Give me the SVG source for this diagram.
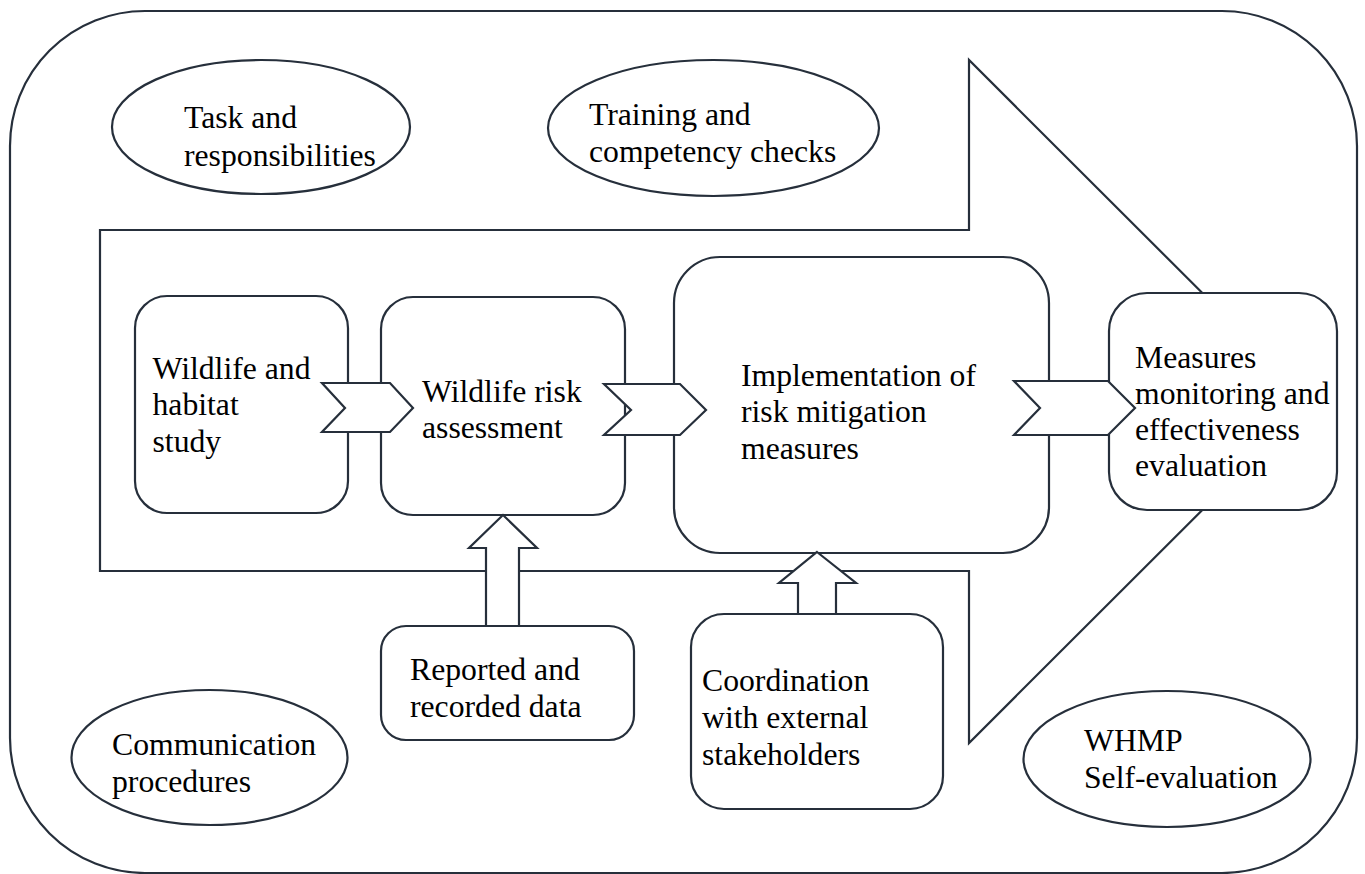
<svg xmlns="http://www.w3.org/2000/svg" width="1365" height="874" viewBox="0 0 1365 874">
<style>
.s{fill:#fff;stroke:#262f3b;stroke-width:2.2;stroke-linejoin:miter}
.t{font-family:"Liberation Serif","Times New Roman",serif;font-size:31.7px;fill:#000}
</style>
<rect width="1365" height="874" fill="#fff"/>
<g id="frame"><rect class="s" x="10" y="11" width="1347" height="862" rx="135" ry="135"/></g>
<g id="task"><ellipse class="s" cx="261" cy="127" rx="149" ry="67"/>
<text class="t" x="184" y="128">Task and</text><text class="t" x="184" y="165.5">responsibilities</text></g>
<g id="training"><ellipse class="s" cx="713.5" cy="128" rx="165.5" ry="68"/>
<text class="t" x="589" y="125">Training and</text><text class="t" x="589" y="161.5">competency checks</text></g>
<g id="communication"><ellipse class="s" cx="209.5" cy="757.5" rx="138" ry="67.5"/>
<text class="t" x="112" y="755">Communication</text><text class="t" x="112" y="791.5">procedures</text></g>
<g id="whmp"><ellipse class="s" cx="1167" cy="759" rx="143.5" ry="68"/>
<text class="t" x="1084" y="751">WHMP</text><text class="t" x="1084" y="787.5">Self-evaluation</text></g>
<g id="process-arrow"><polygon class="s" points="100,230 969,230 969,60 1311,401.5 969,743 969,571 100,571"/></g>
<g id="study"><rect class="s" x="135" y="296" width="213" height="217" rx="32"/>
<text class="t" x="152.5" y="378.5">Wildlife and</text><text class="t" x="152.5" y="415">habitat</text><text class="t" x="152.5" y="451.5">study</text></g>
<g id="assessment"><rect class="s" x="381" y="297" width="244" height="218" rx="32"/>
<text class="t" x="422" y="401.5">Wildlife risk</text><text class="t" x="422" y="437.5">assessment</text></g>
<g id="implementation"><rect class="s" x="674" y="257" width="375" height="296" rx="46"/>
<text class="t" x="741" y="385.5">Implementation of</text><text class="t" x="741" y="422">risk mitigation</text><text class="t" x="741" y="458.5">measures</text></g>
<g id="monitoring"><rect class="s" x="1109" y="293" width="228" height="217" rx="38"/>
<text class="t" x="1135" y="367.5">Measures</text><text class="t" x="1135" y="403.5">monitoring and</text><text class="t" x="1135" y="439.5">effectiveness</text><text class="t" x="1135" y="476">evaluation</text></g>
<g id="reported"><rect class="s" x="381" y="626" width="253" height="114" rx="25"/>
<text class="t" x="410" y="680">Reported and</text><text class="t" x="410" y="716.5">recorded data</text></g>
<g id="coordination"><rect class="s" x="691" y="614" width="252" height="195" rx="33"/>
<text class="t" x="702" y="691">Coordination</text><text class="t" x="702" y="728">with external</text><text class="t" x="702" y="765">stakeholders</text></g>
<g id="connectors">
<polygon class="s" points="322,383 390,383 413,408 390,432 322,432 345,408"/>
<polygon class="s" points="604,384 680,384 706,410 680,435 604,435 631,410"/>
<polygon class="s" points="1014,381 1108,381 1135,408 1108,435 1014,435 1040,408"/>
<polygon class="s" points="503,515 537,548 519,548 519,626 486,626 486,548 469,548"/>
<polygon class="s" points="817,552 856,583 836,583 836,614 798,614 798,583 779,583"/>
</g>
</svg>
